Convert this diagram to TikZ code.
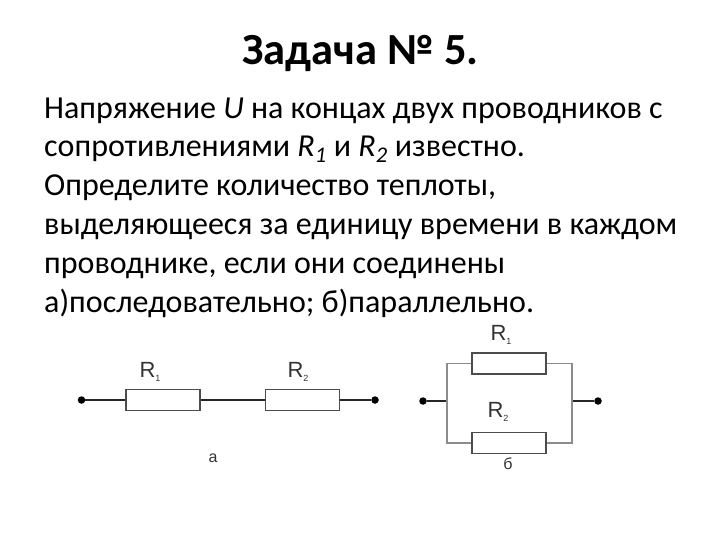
\documentclass[tikz,border=0pt]{standalone}
\usepackage{fontspec}
\setmainfont{Carlito}
\usetikzlibrary{positioning}
\tikzstyle{textline}=[anchor=base west, text=black, inner sep=0pt, font=\fontsize{32}{36}\selectfont]
\tikzstyle{resistor}=[rectangle, draw=black!70, line width=1.1pt, fill=white, minimum width=74pt, minimum height=21pt, inner sep=0pt]
\tikzstyle{terminal}=[circle, fill=black, inner sep=0pt, minimum size=7.5pt]
\tikzstyle{reslabel}=[inner sep=0pt, text=black!80]
\tikzset{wire/.style={line width=1.8pt, black!85}, graywire/.style={line width=1.8pt, black!45}}
\newfontfamily\labelfont{Liberation Sans}
\newcommand{\reslabeltext}[1]{R\raisebox{-0.4ex}{\fontsize{9}{9}\selectfont #1}}
\begin{document}
\begin{tikzpicture}[x=1pt,y=-1pt]
    \useasboundingbox (0,0) rectangle (720,540);

        \node(title)[anchor=base, inner sep=0pt, font=\fontsize{44.5}{48}\selectfont\bfseries] at (360.5,65) {Задача № 5.};

        \node(line1)[textline] at (44,119) {Напряжение \textit{U} на концах двух проводников с};
        \node(line2)[textline] at (44,157) {сопротивлениями \textit{R\textsubscript{1}} и \textit{R\textsubscript{2}} известно.};
        \node(line3)[textline] at (44,196) {Определите количество теплоты,};
        \node(line4)[textline] at (44,235) {выделяющееся за единицу времени в каждом};
        \node(line5)[textline] at (44,273) {проводнике, если они соединены};
        \node(line6)[textline] at (44,312) {а)последовательно; б)параллельно.};

        % series
        \node(startA)[terminal] at (81.5,400) {};
        \node(resA1)[resistor] at (163,400) {};
        \node(resA2)[resistor, right=64pt of resA1] {};
        \node(endA)[terminal] at (375,400) {};
        \draw [wire] (startA) -- (resA1);
        \draw [wire] (resA1) -- (resA2);
        \draw [wire] (resA2) -- (endA);
        \node(labelA1)[reslabel, font=\labelfont\fontsize{22}{22}\selectfont] at (150,372) {\reslabeltext{1}};
        \node(labelA2)[reslabel, font=\labelfont\fontsize{22}{22}\selectfont] at (298,372) {\reslabeltext{2}};
        \node(captionA)[reslabel, font=\labelfont\fontsize{16}{16}\selectfont] at (213,458) {а};

        % parallel
        \node(startB)[terminal] at (423,401) {};
        \node(endB)[terminal] at (598,401) {};
        \node(resB1)[resistor] at (509,363.5) {};
        \node(resB2)[resistor, below=57pt of resB1] {};
        \coordinate(jointL) at (447,401);
        \coordinate(jointR) at (572,401);
        \draw [wire] (startB) -- (jointL);
        \draw [wire] (endB) -- (jointR);
        \draw [graywire] (resB1.west) -| (jointL);
        \draw [graywire] (resB2.west) -| (jointL);
        \draw [graywire] (resB1.east) -| (jointR);
        \draw [graywire] (resB2.east) -| (jointR);
        \node(labelB1)[reslabel, font=\labelfont\fontsize{22}{22}\selectfont] at (501,335) {\reslabeltext{1}};
        \node(labelB2)[reslabel, font=\labelfont\fontsize{22}{22}\selectfont] at (498,412) {\reslabeltext{2}};
        \node(captionB)[reslabel, font=\labelfont\fontsize{16}{16}\selectfont] at (508,464) {б};

    \end{tikzpicture}
\end{document}
